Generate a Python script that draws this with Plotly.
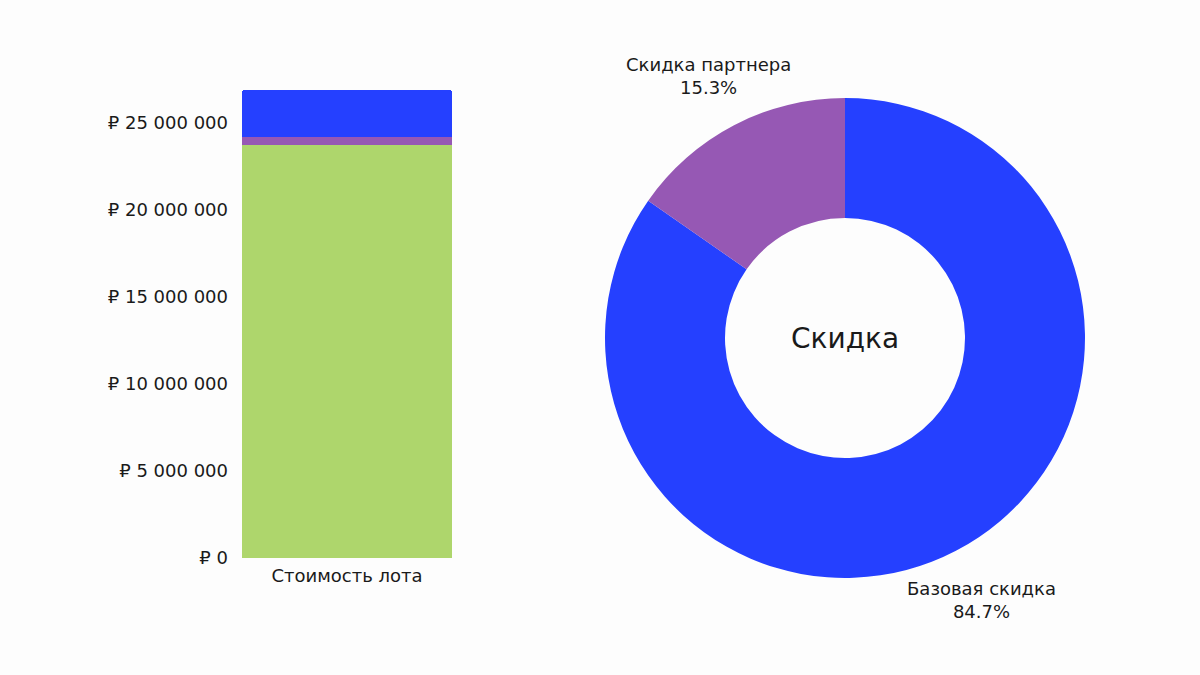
import math
import plotly.graph_objects as go

# Data
bar_category = ["Стоимость лота"]
lot_price_after_discount = [23720000]
partner_discount = [482000]
base_discount = [2668000]

pie_labels = ["Базовая скидка", "Скидка партнера"]
pie_values = [base_discount[0], partner_discount[0]]

tick_vals = [0, 5000000, 10000000, 15000000, 20000000, 25000000]
tick_text = ["₽ 0", "₽ 5 000 000", "₽ 10 000 000", "₽ 15 000 000",
             "₽ 20 000 000", "₽ 25 000 000"]

GREEN = "#AED66C"
PURPLE = "#9658B4"
BLUE = "#2540FF"
TEXT = "#1a1a1a"
FONT = "DejaVu Sans"
FS = 18

W, H = 1200, 675
CX, CY, R = 845, 338, 240
LABEL_R = 296

fig = go.Figure()

for vals, col in ((lot_price_after_discount, GREEN), (partner_discount, PURPLE),
                  (base_discount, BLUE)):
    fig.add_trace(go.Bar(x=bar_category, y=vals,
                         marker=dict(color=col, line=dict(width=0)),
                         showlegend=False, hoverinfo="y"))

fig.add_trace(go.Pie(
    labels=pie_labels, values=pie_values, hole=0.5,
    marker=dict(colors=[BLUE, PURPLE], line=dict(width=0)),
    direction="clockwise", sort=False, rotation=0,
    textinfo="none",
    domain=dict(x=[(CX - R) / W, (CX + R) / W], y=[(H - CY - R) / H, (H - CY + R) / H]),
    showlegend=False,
))

# outside labels placed at the mid-angle of each slice
annotations = []
total = sum(pie_values)
start = 0.0
for lab, val in zip(pie_labels, pie_values):
    frac = val / total
    mid = (start + frac / 2) * 2 * math.pi
    start += frac
    px = CX + LABEL_R * math.sin(mid)
    py = CY - LABEL_R * math.cos(mid)
    annotations.append(dict(
        text=f"{lab}<br>{frac * 100:.1f}%", x=px / W, y=(H - py) / H,
        xref="paper", yref="paper", xanchor="center", yanchor="middle",
        showarrow=False, font=dict(family=FONT, size=FS, color=TEXT)))

annotations.append(dict(text="Скидка", x=CX / W, y=(H - CY) / H, xref="paper",
                        yref="paper", xanchor="center", yanchor="middle",
                        showarrow=False, font=dict(family=FONT, size=28, color=TEXT)))

fig.update_layout(
    width=W, height=H,
    margin=dict(l=0, r=0, t=0, b=0),
    paper_bgcolor="#fdfdfd", plot_bgcolor="#fdfdfd",
    barmode="stack", bargap=0,
    barcornerradius=3,
    separators=". ",
    font=dict(family=FONT, size=FS, color=TEXT),
    xaxis=dict(domain=[242 / W, 452 / W], showgrid=False, zeroline=False,
               showline=False, ticks="", tickfont=dict(size=FS, color=TEXT),
               ticklabelstandoff=5),
    yaxis=dict(domain=[(H - 558) / H, (H - 88.2) / H], range=[0, 27000000],
               tickvals=tick_vals, ticktext=tick_text,
               showgrid=False, zeroline=False, showline=False, ticks="",
               tickfont=dict(size=FS, color=TEXT), ticklabelstandoff=13,
               automargin=False),
    annotations=annotations,
)

fig.write_html("out.html", config={"displayModeBar": False},
               post_script="document.body.style.margin='0';")
